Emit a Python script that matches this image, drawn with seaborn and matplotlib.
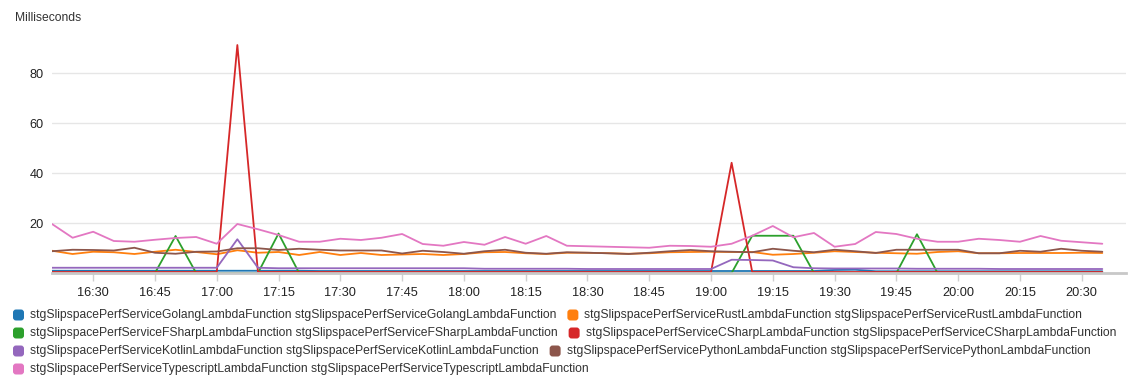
import matplotlib
matplotlib.use('Agg')
import numpy as np
import pandas as pd
import seaborn as sns
import matplotlib.pyplot as plt
import matplotlib.dates as mdates
from matplotlib.patches import FancyBboxPatch
from matplotlib.transforms import IdentityTransform

# timestamps, one point every 5 minutes
times = pd.date_range('2021-03-01 16:20', '2021-03-01 20:35', freq='5min')

nan = np.nan
golang = [0.9, 0.9, 0.9, 0.9, 0.9, 0.9, 0.9, 0.9, 0.9, 0.9,
          0.9, 0.9, 0.9, 0.8, 0.8, 0.8, 0.8, 0.8, 0.8, 0.8,
          0.8, 0.8, 0.8, 0.8, 0.8, 0.8, 0.8, 0.8, 0.8, 0.8,
          0.8, 0.8, 0.8, 0.8, 0.8, 0.8, 0.8, 0.8, 1.2, 1.3,
          0.7, 0.7, 0.7, 0.7, 0.7, 0.7, 0.7, 0.7, 0.7, 0.7,
          0.7, 0.7]
rust = [8.9, 7.6, 8.5, 8.3, 7.6, 8.5, 9.3, 8.4, 7.5, 9.1,
        8.1, 8.4, 7.2, 8.4, 7.2, 8.0, 7.2, 7.4, 7.6, 7.2,
        7.6, 8.3, 8.4, 7.9, 7.6, 8.1, 8.1, 7.9, 7.7, 7.9,
        8.3, 8.4, 8.5, 8.4, 8.4, 7.3, 7.6, 8.1, 8.7, 8.4,
        8.1, 7.9, 7.7, 8.4, 8.7, 7.9, 7.9, 8.0, 8.0, 8.0,
        8.1, 8.0]
fsharp = [nan, nan, nan, nan, nan, 0, 14.8, 0, nan, nan,
          0, 15.8, 0, 0, 0, 0, 0, 0, 0, 0,
          0, 0, 0, 0, 0, 0, 0, 0, 0, 0,
          0, 0, 0, 0, 14.9, 14.9, 14.9, 0, 0, 0,
          0, 0, 15.5, 0, 0, 0, 0, 0, 0, 0,
          0, 0]
csharp = [0.4, 0.4, 0.4, 0.4, 0.4, 0.4, 0.4, 0.4, 0.4, 91.2,
          0.4, 0.4, 0.4, 0.4, 0.4, 0.4, 0.4, 0.4, 0.4, 0.4,
          0.4, 0.4, 0.4, 0.4, 0.4, 0.4, 0.4, 0.4, 0.4, 0.4,
          0.4, 0.4, 0.4, 44.1, 0.4, 0.4, 0.4, 0.4, 0.4, 0.4,
          0.4, 0.4, 0.4, 0.4, 0.4, 0.4, 0.4, 0.4, 0.4, 0.4,
          0.4, 0.4]
kotlin = [2.1, 2.1, 2.1, 2.1, 2.1, 2.1, 2.1, 2.1, 2.1, 13.5,
          2.1, 1.9, 1.9, 1.9, 1.9, 1.9, 1.9, 1.9, 1.9, 1.9,
          1.9, 1.7, 1.7, 1.7, 1.7, 1.7, 1.6, 1.6, 1.6, 1.6,
          1.6, 1.6, 1.6, 5.3, 5.2, 5.0, 2.3, 1.9, 1.8, 1.8,
          1.8, 1.8, 1.7, 1.7, 1.7, 1.7, 1.6, 1.6, 1.6, 1.6,
          1.6, 1.6]
python = [8.7, 9.3, 9.2, 9.0, 10.1, 8.1, 7.7, 8.5, 8.6, 9.9,
          9.9, 9.2, 9.7, 9.3, 9.0, 9.0, 9.0, 7.8, 8.9, 8.4,
          7.7, 8.7, 9.3, 8.1, 7.7, 8.3, 8.1, 7.9, 7.6, 8.1,
          8.7, 9.2, 8.7, 8.5, 8.3, 9.7, 8.9, 8.3, 9.3, 8.7,
          8.0, 9.3, 9.3, 9.3, 9.3, 7.9, 7.9, 8.9, 8.5, 9.7,
          8.9, 8.5]
typescript = [19.6, 14.1, 16.5, 12.8, 12.5, 13.3, 14.0, 14.4, 11.7, 19.6,
              17.5, 15.2, 12.5, 12.5, 13.7, 13.2, 14.1, 15.6, 11.6, 10.9,
              12.4, 11.3, 14.4, 11.7, 14.8, 10.9, 10.7, 10.5, 10.3, 10.1,
              10.9, 10.8, 10.5, 11.7, 14.9, 18.8, 14.3, 16.0, 10.5, 11.6,
              16.4, 15.6, 13.7, 12.5, 12.5, 13.7, 13.2, 12.5, 14.8, 12.9,
              12.3, 11.7]

languages = ['Golang', 'Rust', 'FSharp', 'CSharp', 'Kotlin', 'Python', 'Typescript']
series = [golang, rust, fsharp, csharp, kotlin, python, typescript]
names = ['stgSlipspacePerfService%sLambdaFunction' % l for l in languages]
labels = [n + ' ' + n for n in names]
colors = sns.color_palette('tab10', len(names))

frames = []
for name, vals in zip(names, series):
    frames.append(pd.DataFrame({'time': times, 'ms': vals, 'function': name}))
df = pd.concat(frames, ignore_index=True)

sns.set_theme(style='white')
plt.rcParams['font.family'] = ['Liberation Sans', 'DejaVu Sans']

fig = plt.figure(figsize=(11.34, 3.89), dpi=100)
ax = fig.add_axes([52 / 1134, 1 - 273 / 389, 1074 / 1134, 237.5 / 389])

# draw one by one so later series sit on top
for name, c in zip(names, colors):
    sns.lineplot(data=df[df['function'] == name], x='time', y='ms', color=c,
                 linewidth=1.3, estimator=None, ax=ax, legend=False)

ax.set_ylim(0, 95)
ax.set_xlim(pd.Timestamp('2021-03-01 16:20'), pd.Timestamp('2021-03-01 20:40:45'))
ax.set_yticks([20, 40, 60, 80])
ax.xaxis.set_major_locator(mdates.MinuteLocator(byminute=[0, 15, 30, 45]))
ax.xaxis.set_major_formatter(mdates.DateFormatter('%H:%M'))
ax.grid(axis='y', color='#e6e6e6', linewidth=1)
ax.set_xlabel('')
ax.set_ylabel('')
for s in ['top', 'right', 'left']:
    ax.spines[s].set_visible(False)
ax.spines['bottom'].set_color('#c8c8c8')
ax.spines['bottom'].set_linewidth(2)
ax.tick_params(axis='x', length=6, width=1, color='#d0d0d0', labelsize=9.2,
               labelcolor='#222222', pad=4, bottom=True)
ax.tick_params(axis='y', length=0, labelsize=9.2, labelcolor='#222222', pad=6)

fig.text(15 / 1134, 1 - 18 / 389, 'Milliseconds', fontsize=8.7, color='#333333',
         va='center', ha='left')

# legend, laid out in rows like the dashboard widget
fig.canvas.draw()
renderer = fig.canvas.get_renderer()
rows = [[0, 1], [2, 3], [4, 5], [6]]
for r, idxs in enumerate(rows):
    y = 389 - (315 + 18 * r)
    x = 13
    for i in idxs:
        fig.add_artist(FancyBboxPatch((x, y - 5.5), 11, 11,
                                      boxstyle='round,pad=0,rounding_size=3',
                                      transform=IdentityTransform(),
                                      fc=colors[i], ec='none'))
        t = fig.text(x + 17, y, labels[i], transform=IdentityTransform(),
                     fontsize=8.7, color='#333333', va='center', ha='left')
        bb = t.get_window_extent(renderer)
        x = bb.x1 + 11

fig.savefig('out.png', dpi=100)
